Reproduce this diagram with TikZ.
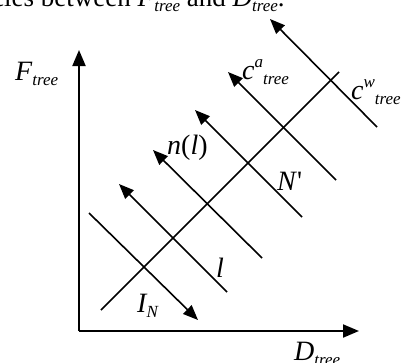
\documentclass[tikz,border=0pt]{standalone}
\usepackage{fontspec}
\setmainfont{Liberation Serif}
\usetikzlibrary{arrows.meta}
\newcommand\mysub[1]{\raisebox{-0.2em}{\fontsize{17}{19}\selectfont\itshape #1}}
\newcommand\mysup[1]{\raisebox{0.42em}{\fontsize{17}{19}\selectfont\itshape #1}}
\tikzset{
  axis/.style={line width=2pt,-{Triangle[length=16pt,width=13pt]}},
  ln/.style={line width=1.6pt},
  tipend/.style={ln,-{Triangle[length=15pt,width=12pt]}},
  tipstart/.style={ln,{Triangle[length=15pt,width=12pt]}-},
  lbl/.style={inner sep=0pt,anchor=base west,font=\fontsize{28}{31}\selectfont\itshape},
}
\begin{document}
\begin{tikzpicture}[x=1pt,y=-1pt]
\useasboundingbox (0,0) rectangle (404,362);
% caption (cut off at the top edge)
\node[lbl,font=\fontsize{27}{30}\selectfont] (cap) at (-8,6) {cles between \textit{F}\mysub{tree} and \textit{D}\mysub{tree}.};
% axes
\coordinate (o) at (79,331);
\coordinate (ytip) at (79,50);
\coordinate (xtip) at (359,331);
\draw[axis] (o) -- (ytip);
\draw[axis] (o) -- (xtip);
% diagonal
\coordinate (d1) at (101,310);
\coordinate (d2) at (339,72);
\draw[ln] (d1) -- (d2);
% parallel lines
\coordinate (a1) at (89,213);  \coordinate (b1) at (198,320);
\coordinate (a2) at (119,184); \coordinate (b2) at (227,292);
\coordinate (a3) at (153,150); \coordinate (b3) at (262,258);
\coordinate (a4) at (195,110); \coordinate (b4) at (302,217);
\coordinate (a5) at (228,72);  \coordinate (b5) at (336,180);
\coordinate (a6) at (270,19);  \coordinate (b6) at (377,127);
\draw[tipend] (a1) -- (b1);
\draw[tipstart] (a2) -- (b2);
\draw[tipstart] (a3) -- (b3);
\draw[tipstart] (a4) -- (b4);
\draw[tipstart] (a5) -- (b5);
\draw[tipstart] (a6) -- (b6);
% labels
\node[lbl] (F) at (15,80) {F\mysub{tree}};
\node[lbl] (ca) at (242,79) {c\mysup{a}\mysub{tree}};
\node[lbl] (cw) at (351,99) {c\mysup{w}\mysub{tree}};
\node[lbl] (nl) at (167,154) {n\textup{(}l\textup{)}};
\node[lbl] (Np) at (277,190) {N\textup{\textquotesingle}};
\node[lbl] (l) at (216,277) {l};
\node[lbl] (IN) at (137,312) {I\mysub{N}};
\node[lbl] (D) at (294,360) {D\mysub{tree}};
\end{tikzpicture}
\end{document}
